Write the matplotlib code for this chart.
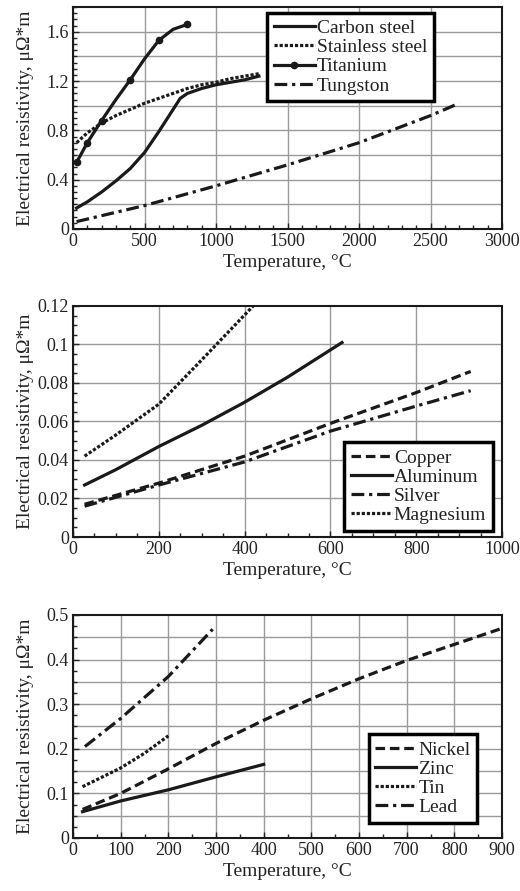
import matplotlib.pyplot as plt
from matplotlib.ticker import MultipleLocator

plt.rcParams['font.family'] = ['Liberation Serif', 'DejaVu Serif']
plt.rcParams['font.size'] = 13
plt.rcParams['text.color'] = '#222222'
plt.rcParams['axes.labelcolor'] = '#222222'
plt.rcParams['xtick.color'] = '#222222'
plt.rcParams['ytick.color'] = '#222222'

# Panel 1: steels, titanium, tungsten
carbon_t = [25, 100, 200, 300, 400, 500, 600, 700, 750, 800, 900, 1000, 1100, 1200, 1300]
carbon_r = [0.17, 0.22, 0.30, 0.39, 0.49, 0.62, 0.79, 0.97, 1.06, 1.10, 1.14, 1.17, 1.19, 1.21, 1.24]
stainless_t = [25, 100, 200, 300, 400, 500, 600, 700, 800, 900, 1000, 1100, 1200, 1300]
stainless_r = [0.70, 0.78, 0.86, 0.92, 0.97, 1.02, 1.06, 1.10, 1.14, 1.17, 1.19, 1.22, 1.24, 1.26]
titanium_t = [25, 100, 200, 300, 400, 500, 600, 700, 800]
titanium_r = [0.54, 0.70, 0.88, 1.05, 1.21, 1.38, 1.53, 1.62, 1.66]
titanium_marks = [0, 1, 2, 4, 6, 8]
tungsten_t = [25, 500, 1000, 1500, 2000, 2500, 2700]
tungsten_r = [0.06, 0.19, 0.35, 0.52, 0.70, 0.92, 1.02]

# Panel 2: copper, aluminum, silver, magnesium
copper_t = [27, 200, 400, 600, 800, 927]
copper_r = [0.017, 0.028, 0.042, 0.059, 0.075, 0.086]
aluminum_t = [27, 100, 200, 300, 400, 500, 627]
aluminum_r = [0.027, 0.035, 0.047, 0.058, 0.070, 0.083, 0.101]
silver_t = [27, 200, 400, 600, 800, 927]
silver_r = [0.016, 0.027, 0.039, 0.055, 0.068, 0.076]
magnesium_t = [27, 100, 200, 300, 420]
magnesium_r = [0.042, 0.053, 0.069, 0.092, 0.120]

# Panel 3: nickel, zinc, tin, lead
nickel_t = [20, 100, 200, 300, 400, 500, 600, 700, 800, 900]
nickel_r = [0.064, 0.100, 0.155, 0.212, 0.264, 0.312, 0.357, 0.398, 0.434, 0.47]
zinc_t = [20, 100, 200, 300, 400]
zinc_r = [0.059, 0.083, 0.108, 0.137, 0.165]
tin_t = [20, 100, 150, 200]
tin_r = [0.115, 0.157, 0.19, 0.229]
lead_t = [25, 100, 200, 293]
lead_r = [0.205, 0.268, 0.362, 0.468]

dash = (0, (3, 1.5))
dot = (0, (1, 0.6))
dashdot = (0, (4, 1.5, 1, 1.5))
lw = 2.3
ink = '#1a1a1a'

fig = plt.figure(figsize=(5.2, 8.91), dpi=100)
ax1 = fig.add_axes([0.1404, 0.743, 0.825, 0.249])
ax2 = fig.add_axes([0.1404, 0.3973, 0.825, 0.2593])
ax3 = fig.add_axes([0.1404, 0.0595, 0.825, 0.2503])

ax1.plot(carbon_t, carbon_r, color=ink, lw=lw, ls='-', label='Carbon steel')
ax1.plot(stainless_t, stainless_r, color=ink, lw=lw, ls=dot, label='Stainless steel')
ax1.plot(titanium_t, titanium_r, color=ink, lw=lw, ls='-', marker='o', ms=4.5,
         markevery=titanium_marks, label='Titanium')
ax1.plot(tungsten_t, tungsten_r, color=ink, lw=lw, ls=dashdot, label='Tungston')

ax2.plot(copper_t, copper_r, color=ink, lw=lw, ls=dash, label='Copper')
ax2.plot(aluminum_t, aluminum_r, color=ink, lw=lw, ls='-', label='Aluminum')
ax2.plot(silver_t, silver_r, color=ink, lw=lw, ls=dashdot, label='Silver')
ax2.plot(magnesium_t, magnesium_r, color=ink, lw=lw, ls=dot, label='Magnesium')

ax3.plot(nickel_t, nickel_r, color=ink, lw=lw, ls=dash, label='Nickel')
ax3.plot(zinc_t, zinc_r, color=ink, lw=lw, ls='-', label='Zinc')
ax3.plot(tin_t, tin_r, color=ink, lw=lw, ls=dot, label='Tin')
ax3.plot(lead_t, lead_r, color=ink, lw=lw, ls=dashdot, label='Lead')

settings = [
    (ax1, (0, 3000), 500, 100, (0, 1.8), 0.4, 0.2, 0.05, 'upper right', (0.841, 0.975)),
    (ax2, (0, 1000), 200, 50, (0, 0.12), 0.02, 0.02, 0.005, 'lower right', (0.979, 0.026)),
    (ax3, (0, 900), 100, 50, (0, 0.5), 0.1, 0.05, 0.025, 'lower right', (0.942, 0.067)),
]

fmt = plt.FuncFormatter(lambda v, p: '0' if abs(v) < 1e-9 else f'{v:g}')

for ax, xl, xmaj, xmin, yl, ylab, ygrid, ymin, loc, anchor in settings:
    ax.set_xlim(*xl)
    ax.set_ylim(*yl)
    ax.xaxis.set_major_locator(MultipleLocator(xmaj))
    ax.xaxis.set_minor_locator(MultipleLocator(xmin))
    ax.yaxis.set_major_locator(MultipleLocator(ylab))
    ax.yaxis.set_minor_locator(MultipleLocator(ymin))
    ax.yaxis.set_major_formatter(fmt)
    ax.grid(True, which='major', axis='x', color='#9a9a9a', lw=1.0)
    # horizontal grid lines, also between the labelled ticks
    y = yl[0]
    while y < yl[1] - 1e-9:
        ax.axhline(y, color='#9a9a9a', lw=1.0, zorder=0.5)
        y += ygrid
    ax.tick_params(which='both', direction='in', length=4, width=1, pad=3, labelsize=13)
    ax.tick_params(which='minor', length=3)
    for s in ax.spines.values():
        s.set_linewidth(1.5)
        s.set_color(ink)
    ax.set_xlabel('Temperature, °C', labelpad=3, fontsize=14)
    ax.set_ylabel('Electrical resistivity, μΩ*m', fontsize=14)
    ax.yaxis.set_label_coords(-0.09, 0.5)
    leg = ax.legend(loc=loc, bbox_to_anchor=anchor, fancybox=False, framealpha=1,
                    edgecolor='black', handlelength=2.1, handletextpad=0.1,
                    labelspacing=0.08, borderpad=0.35, borderaxespad=0, fontsize=14)
    leg.get_frame().set_linewidth(2.5)

fig.savefig('out.png', dpi=100)
